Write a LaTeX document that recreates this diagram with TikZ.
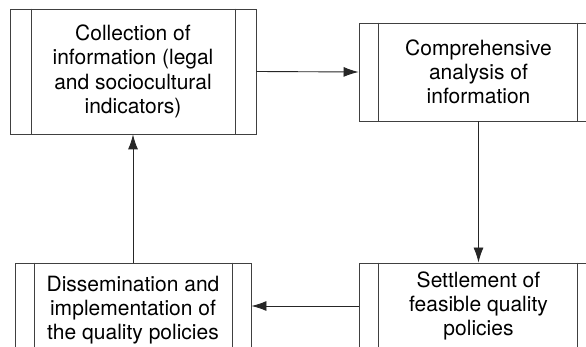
\documentclass[tikz,border=0pt]{standalone}
\usepackage{fontspec}
\setmainfont{TeX Gyre Heros}
\usetikzlibrary{calc,arrows.meta}
\begin{document}
\begin{tikzpicture}[x=1pt,y=-1pt,
  procbox/.style={draw=black!75, line width=0.9pt, rectangle, inner sep=0pt, anchor=center,
    align=center, font=\fontsize{21}{24.3}\selectfont},
  arr/.style={draw=black!85, line width=0.9pt, -{Latex[length=15pt,width=10pt]}},
  inner/.style={draw=black!75, line width=0.9pt}]
\useasboundingbox (0,0) rectangle (586,347);
\clip (0,0) rectangle (586,347);
\fill[white] (0,0) rectangle (586,347);
\node[procbox, minimum width=246pt, minimum height=125pt] (c) at (133,71.5)
  {Collection of\\information (legal\\and sociocultural\\indicators)};
\node[procbox, minimum width=239pt, minimum height=98pt] (a) at (478.5,72)
  {Comprehensive\\analysis of\\information};
\node[procbox, minimum width=239pt, minimum height=86pt] (s) at (478.5,306)
  {Settlement of\\feasible quality\\policies};
\node[procbox, minimum width=236pt, minimum height=94pt] (d) at (133,310)
  {Dissemination and\\implementation of\\the quality policies};
% inner vertical lines
\draw[inner] ($(c.north west)+(22,0)$) -- ($(c.south west)+(22,0)$);
\draw[inner] ($(c.north east)+(-21,0)$) -- ($(c.south east)+(-21,0)$);
\draw[inner] ($(a.north west)+(20,0)$) -- ($(a.south west)+(20,0)$);
\draw[inner] ($(a.north east)+(-21,0)$) -- ($(a.south east)+(-21,0)$);
\draw[inner] ($(s.north west)+(20,0)$) -- ($(s.south west)+(20,0)$);
\draw[inner] ($(s.north east)+(-21,0)$) -- ($(s.south east)+(-21,0)$);
\draw[inner] ($(d.north west)+(20,0)$) -- ($(d.south west)+(20,0)$);
\draw[inner] ($(d.north east)+(-19,0)$) -- ($(d.south east)+(-19,0)$);
% connectors
\draw[arr] (c.east) -- (a.west);
\draw[arr] (a.south) -- (s.north);
\draw[arr] (s.west) -- (d.east |- s.west);
\draw[arr] (d.north) -- (c.south);
\end{tikzpicture}
\end{document}
